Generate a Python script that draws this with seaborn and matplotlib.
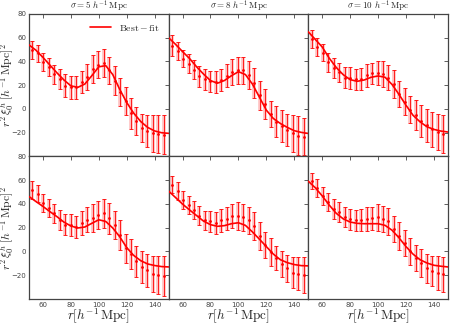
import numpy as np
import pandas as pd
import matplotlib
matplotlib.use("Agg")
import matplotlib.pyplot as plt
import seaborn as sns

# --- datos ---
sigmas = [5, 8, 10]

r_data = [52.5, 56.4, 60.3, 64.3, 68.2, 72.1, 76.0, 79.9, 83.9, 87.8, 91.7, 95.6,
          99.6, 103.5, 107.4, 111.3, 115.2, 119.2, 123.1, 127.0, 130.9, 134.8,
          138.8, 142.7, 146.6]
r_model = [50, 55, 60, 65, 70, 75, 80, 85, 90, 95, 100, 105, 110, 115, 120,
           125, 130, 135, 140, 145, 150]

# fila superior
top_y = [
    [49.6, 46.8, 39.6, 35.3, 29.2, 25.1, 19.7, 18.2, 18.1, 22.5, 26.9, 33.6,
     37.4, 38.5, 32.6, 23.9, 14.2, 6.8, -3.6, -10.1, -15.7, -18.5, -20.6, -21.3, -21.5],
    [53.3, 48.9, 42.4, 38.0, 33.2, 27.6, 24.9, 23.2, 22.5, 24.3, 28.0, 30.8,
     32.5, 32.5, 28.5, 22.0, 11.4, 4.4, -3.9, -10.6, -14.3, -17.5, -20.6, -22.4, -23.3],
    [58.9, 52.4, 47.5, 39.2, 34.7, 30.8, 26.4, 26.0, 24.9, 25.1, 28.3, 30.1,
     30.3, 29.7, 26.4, 21.1, 12.8, 6.3, -0.8, -5.3, -10.1, -13.6, -17.1, -19.2, -21.3],
]
top_err = [
    [7.6, 7.1, 7.4, 7.5, 8.0, 8.5, 9.7, 9.6, 9.7, 9.2, 10.8, 11.9, 11.5, 11.8,
     11.5, 11.9, 11.9, 12.1, 13.0, 11.8, 11.8, 13.2, 15.3, 16.0, 16.2],
    [8.6, 7.6, 7.4, 8.0, 7.9, 8.7, 8.7, 9.0, 9.2, 9.3, 9.7, 11.0, 11.4, 11.4,
     11.5, 12.5, 12.5, 12.5, 11.0, 12.8, 13.2, 13.6, 15.3, 16.2, 15.3],
    [7.2, 7.6, 7.5, 8.3, 8.6, 8.3, 8.6, 9.0, 8.7, 9.0, 9.4, 9.0, 9.7, 10.8,
     10.8, 11.7, 11.1, 11.5, 11.4, 12.5, 13.2, 13.9, 14.6, 15.3, 16.0],
]
top_fit = [
    [54.0, 49.5, 43.5, 37.0, 30.5, 24.5, 19.5, 18.2, 21.0, 28.0, 35.5, 36.5,
     29.0, 16.5, 5.5, -3.5, -10.5, -15.5, -18.5, -20.0, -20.5],
    [60.0, 54.4, 48.3, 42.5, 35.6, 29.4, 23.9, 21.7, 24.0, 28.0, 31.4, 29.0,
     21.0, 10.0, -1.0, -8.0, -12.2, -15.5, -18.3, -19.7, -20.6],
    [65.0, 58.6, 52.2, 42.8, 35.0, 28.9, 24.7, 23.3, 24.4, 26.7, 27.8, 26.7,
     20.6, 12.2, 3.1, -5.3, -10.8, -15.0, -17.2, -18.6, -19.4],
]

# fila inferior
bot_y = [
    [51.6, 48.5, 40.9, 36.7, 32.1, 26.4, 22.7, 22.4, 20.9, 24.1, 26.8, 28.2,
     31.0, 32.2, 27.9, 22.4, 14.0, 2.7, -2.2, -8.4, -13.3, -16.0, -18.8, -19.9, -20.7],
    [56.4, 50.9, 43.5, 39.1, 35.0, 30.3, 26.1, 25.3, 24.2, 26.1, 27.5, 29.7,
     29.7, 28.9, 26.1, 21.2, 13.2, 5.5, -0.6, -5.5, -10.5, -14.3, -17.9, -18.8, -19.9],
    [59.2, 53.7, 46.8, 41.8, 35.8, 33.0, 28.9, 27.0, 26.1, 26.7, 27.5, 28.0,
     28.9, 27.5, 25.3, 19.3, 13.2, 6.9, 0.0, -5.5, -9.7, -14.3, -16.5, -17.9, -19.3],
]
bot_err = [
    [7.6, 7.2, 7.3, 7.9, 7.9, 8.5, 9.0, 9.2, 9.4, 9.8, 10.3, 11.7, 11.7, 12.4,
     12.8, 12.0, 12.7, 12.0, 12.5, 13.0, 13.5, 14.0, 15.0, 16.0, 16.5],
    [6.9, 7.6, 7.6, 7.6, 7.6, 7.7, 8.3, 9.0, 9.2, 9.6, 9.6, 10.3, 11.7, 11.4,
     11.4, 11.7, 11.7, 11.0, 11.7, 10.3, 11.0, 11.7, 13.0, 13.8, 15.2],
    [6.9, 7.6, 7.6, 7.6, 8.3, 8.3, 8.3, 9.0, 9.2, 9.4, 10.0, 9.6, 11.4, 11.0,
     11.4, 11.0, 12.0, 11.0, 11.6, 11.0, 11.7, 12.0, 12.8, 14.2, 14.7],
]
bot_fit = [
    [46.3, 42.1, 38.0, 33.6, 29.4, 24.8, 21.5, 19.8, 20.6, 23.7, 26.7, 25.3,
     19.8, 12.4, 3.3, -3.3, -7.7, -10.5, -11.8, -12.7, -13.0],
    [50.9, 45.4, 39.9, 35.0, 30.3, 25.6, 22.6, 21.2, 21.8, 23.4, 24.2, 22.0,
     16.5, 10.4, 4.1, -2.2, -6.9, -9.4, -11.0, -11.9, -12.1],
    [59.2, 53.7, 46.8, 39.1, 32.2, 27.5, 24.8, 23.7, 23.4, 23.4, 23.4, 22.0,
     17.9, 11.5, 4.1, -2.2, -6.9, -9.7, -11.6, -12.4, -13.0],
]

# --- estilo ---
sns.set_style("white")
plt.rcParams.update({
    "mathtext.fontset": "cm",
    "xtick.direction": "in", "ytick.direction": "in",
    "xtick.top": True, "ytick.right": True,
    "xtick.major.size": 3, "ytick.major.size": 3,
    "xtick.major.width": 0.6, "ytick.major.width": 0.6,
    "xtick.labelsize": 5, "ytick.labelsize": 5,
    "xtick.color": "#444444", "ytick.color": "#444444",
    "axes.edgecolor": "#444444", "axes.linewidth": 0.9,
})

fig, axes = plt.subplots(2, 3, figsize=(4.52, 3.25), dpi=100, sharex=True, sharey=True)
plt.subplots_adjust(left=0.064, right=0.991, top=0.957, bottom=0.08, wspace=0, hspace=0)

rows = [(top_y, top_err, top_fit), (bot_y, bot_err, bot_fit)]
for i, (ys, errs, fits) in enumerate(rows):
    for j in range(3):
        ax = axes[i, j]
        # barras anchas claras + barras finas con caps
        ax.errorbar(r_data, ys[j], yerr=errs[j], fmt="none",
                    ecolor=(1, 0.3, 0.3, 0.35), elinewidth=2.6, zorder=1)
        ax.errorbar(r_data, ys[j], yerr=errs[j], fmt=".", color="red", ms=2,
                    elinewidth=0.6, capsize=1.3, capthick=0.6, zorder=2)
        df = pd.DataFrame({"r": r_model, "fit": fits[j]})
        sns.lineplot(data=df, x="r", y="fit", ax=ax, color="red", lw=1.2,
                     label=r"$\mathrm{Best}-\mathrm{fit}$" if (i == 0 and j == 0) else None,
                     legend=(i == 0 and j == 0), zorder=3)
        ax.set_xlim(50, 150)
        ax.set_ylim(-40, 80)
        ax.set_xticks([60, 80, 100, 120, 140])
        ax.set_yticks([-20, 0, 20, 40, 60, 80])
        ax.tick_params(pad=2)
        ax.set_xlabel("")
        ax.set_ylabel("")
        if i == 0:
            ax.set_title(r"$\sigma=%d\ h^{-1}\,\mathrm{Mpc}$" % sigmas[j], fontsize=6.5, pad=1.5)
        if i == 1:
            ax.set_xlabel(r"$r[h^{-1}\,\mathrm{Mpc}]$", fontsize=9.5, labelpad=-1)
        if j == 0:
            ax.set_ylabel(r"$r^2\,\xi_0^h\;[h^{-1}\,\mathrm{Mpc}]^2$", fontsize=8.5)
            ax.yaxis.set_label_coords(-0.085, 0.5)

leg = axes[0, 0].legend(loc="upper right", frameon=False, fontsize=7, handlelength=2.2)

plt.savefig("out.png", dpi=100)
